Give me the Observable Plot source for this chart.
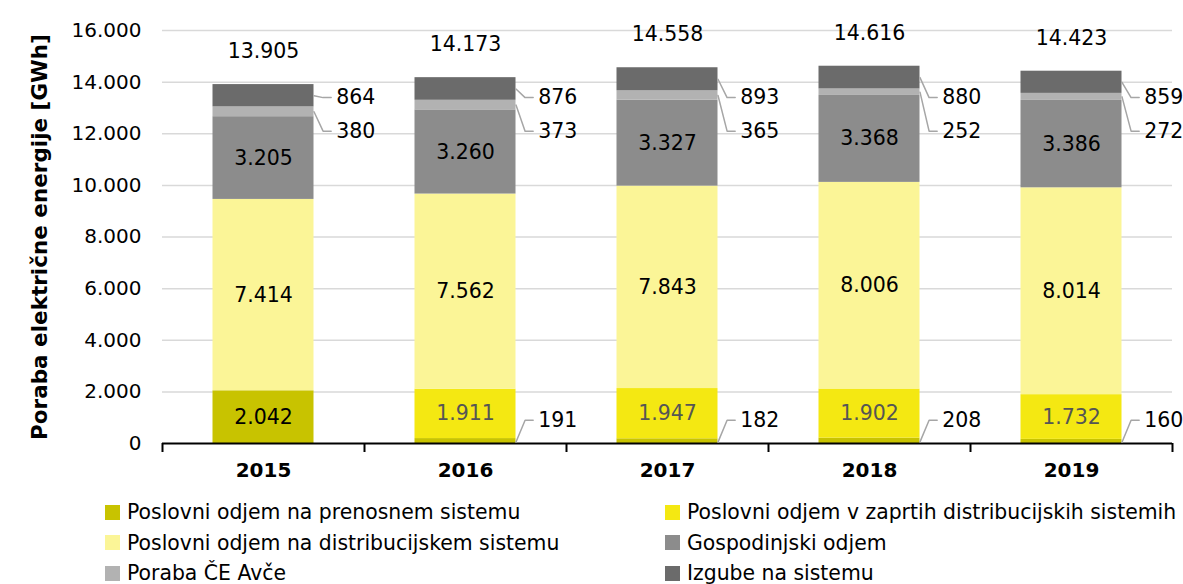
<!DOCTYPE html>
<html><head><meta charset="utf-8">
<script src="https://cdn.jsdelivr.net/npm/d3@7"></script>
<script src="https://cdn.jsdelivr.net/npm/@observablehq/plot@0.6"></script>
<style>
body{margin:0;background:#fff;font-family:"DejaVu Sans", sans-serif;}
#chart svg{display:block}
.legend{display:grid;grid-template-columns:560px auto;margin:2px 0 0 105px}
.item{display:flex;align-items:center;height:30.5px;font-size:20.4px;color:#000;white-space:nowrap}
.sw{width:15px;height:15px;margin-right:7px;flex:none}
</style></head><body>
<div id="chart"></div>
<div class="legend" id="legend"></div>
<script>
const years = ["2015", "2016", "2017", "2018", "2019"];
const series = [
  "Poslovni odjem na prenosnem sistemu",
  "Poslovni odjem v zaprtih distribucijskih sistemih",
  "Poslovni odjem na distribucijskem sistemu",
  "Gospodinjski odjem",
  "Poraba ČE Avče",
  "Izgube na sistemu"
];
const prenosni = [2042, 191, 182, 208, 160];
const zaprti = [0, 1911, 1947, 1902, 1732];
const distribucijski = [7414, 7562, 7843, 8006, 8014];
const gospodinjski = [3205, 3260, 3327, 3368, 3386];
const avce = [380, 373, 365, 252, 272];
const izgube = [864, 876, 893, 880, 859];
const totals = [13905, 14173, 14558, 14616, 14423];
const yTicks = [0, 2000, 4000, 6000, 8000, 10000, 12000, 14000, 16000];
const colors = ["#c8c300", "#f4e812", "#fbf597", "#8c8c8c", "#b2b2b2", "#6b6b6b"];

const values = [prenosni, zaprti, distribucijski, gospodinjski, avce, izgube];
const fmt = d3.formatLocale({decimal: ",", thousands: ".", grouping: [3], currency: ["", ""]}).format(",d");

// stacked rows
const rows = [];
years.forEach((yr, i) => {
  let acc = 0;
  series.forEach((s, k) => {
    const v = values[k][i];
    rows.push({i, year: yr, series: s, k, value: v, y1: acc, y2: acc + v, mid: acc + v / 2});
    acc += v;
  });
});

// layout constants (x in category units)
const half = 0.25;
const izgubeLevel = 13400, avceLevel = 12100, prenosniLevel = 900;
const callouts = [];
rows.forEach(d => {
  let level = null;
  if (d.k === 5) level = izgubeLevel;
  else if (d.k === 4) level = avceLevel;
  else if (d.k === 0 && d.i > 0) level = prenosniLevel;
  if (level !== null) callouts.push({...d, level, id: d.i + "-" + d.k});
});
const leaderPts = callouts.flatMap(c => [
  {id: c.id, x: c.i + half, y: c.k === 0 ? c.y2 * 0.3 : c.mid},
  {id: c.id, x: c.i + half + 0.045, y: c.level},
  {id: c.id, x: c.i + half + 0.085, y: c.level}
]);

const inside = rows.filter(d => (d.k === 2 || d.k === 3 || (d.k === 0 && d.i === 0)));
const insideZ = rows.filter(d => d.k === 1 && d.value > 0);

const FS = 20;
const FL = 20.5;
const plot = Plot.plot({
  width: 1183,
  height: 495,
  marginLeft: 162,
  marginRight: 11,
  marginTop: 30,
  marginBottom: 52,
  style: {fontFamily: "'DejaVu Sans', sans-serif", fontSize: FS + "px", color: "#000", background: "#fff"},
  x: {domain: [-0.5, 4.5], axis: null},
  y: {domain: [0, 16000], axis: null},
  color: {domain: series, range: colors},
  marks: [
    Plot.gridY(yTicks.filter(t => t > 0), {stroke: "#d9d9d9", strokeOpacity: 1, strokeWidth: 1.5}),
    Plot.axisY(yTicks, {tickSize: 0, tickPadding: 21, tickFormat: fmt, fontSize: FS, label: null}),
    Plot.rectY(rows, {x1: d => d.i - half, x2: d => d.i + half, y1: "y1", y2: "y2", fill: "series"}),
    Plot.ruleY([0], {stroke: "#000", strokeWidth: 2}),
    Plot.ruleX(d3.range(years.length + 1).map(j => j - 0.5), {y1: 0, y2: 0, insetBottom: -9, stroke: "#000", strokeWidth: 2}),
    Plot.axisX(d3.range(years.length), {tickSize: 0, tickPadding: 19, tickFormat: i => years[i], fontWeight: "bold", fontSize: FS, label: null}),
    Plot.text(inside, {x: "i", y: "mid", text: d => fmt(d.value), fontSize: FL, fill: "#000"}),
    Plot.text(insideZ, {x: "i", y: "mid", text: d => fmt(d.value), fontSize: FL, fill: "#555"}),
    Plot.text(years, {x: (d, i) => i, y: (d, i) => totals[i], text: (d, i) => fmt(totals[i]), dy: -33, fontSize: FL, fill: "#000"}),
    Plot.line(leaderPts, {x: "x", y: "y", z: "id", stroke: "#a6a6a6", strokeWidth: 1.5, curve: "linear"}),
    Plot.text(callouts, {x: d => d.i + half + 0.11, y: "level", text: d => fmt(d.value), textAnchor: "start", fontSize: FL, fill: "#000"}),
    Plot.text(["Poraba električne energije [GWh]"], {frameAnchor: "left", textAnchor: "middle", rotate: -90, dx: -122, fontWeight: "bold", fontSize: 21.5, fill: "#000"})
  ]
});
document.getElementById("chart").appendChild(plot);

const lg = document.getElementById("legend");
series.forEach((s, k) => {
  const it = document.createElement("div");
  it.className = "item";
  const sw = document.createElement("span");
  sw.className = "sw";
  sw.style.background = colors[k];
  const tx = document.createElement("span");
  tx.textContent = s;
  it.appendChild(sw); it.appendChild(tx);
  lg.appendChild(it);
});
</script>
</body></html>
